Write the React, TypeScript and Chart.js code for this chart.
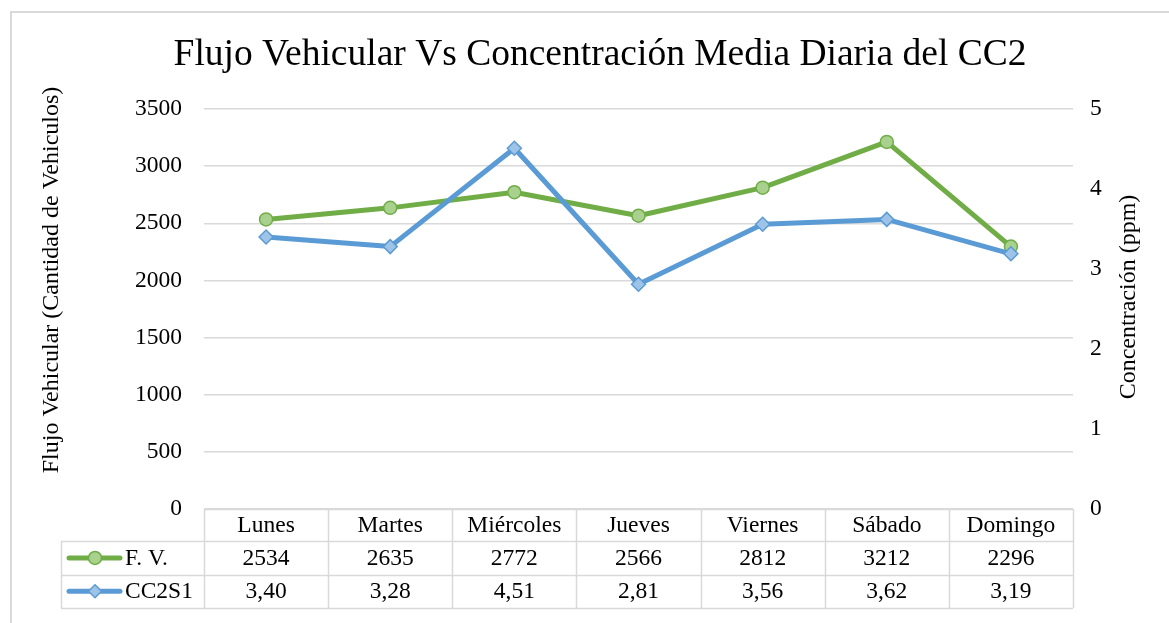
import React, { useEffect, useRef } from "react";
import { Chart, registerables } from "chart.js";

Chart.register(...registerables);

const categories = ["Lunes", "Martes", "Miércoles", "Jueves", "Viernes", "Sábado", "Domingo"];
const flujoVehicular = [2534, 2635, 2772, 2566, 2812, 3212, 2296];
const concentracion = [3.4, 3.28, 4.51, 2.81, 3.56, 3.62, 3.19];
const seriesNames = ["F. V.", "CC2S1"];
const titleText = "Flujo Vehicular Vs Concentración Media Diaria del CC2";
const leftAxisTitle = "Flujo Vehicular (Cantidad de Vehiculos)";
const rightAxisTitle = "Concentración (ppm)";

const GREEN = "#70AD47";
const GREEN_FILL = "#A9D18E";
const BLUE = "#5B9BD5";
const BLUE_FILL = "#9DC3E6";
const GRID = "#D9D9D9";
const FONT = "'Liberation Serif', 'Times New Roman', serif";
const TEXT = "#000000";
const TICK_SIZE = 23.5;

const fmtConc = (v: number) => v.toFixed(2).replace(".", ",");

const tablePlugin = {
  id: "tablePlugin",
  afterDraw(chart: any) {
    const ctx = chart.ctx as CanvasRenderingContext2D;
    const area = chart.chartArea;
    const xs = chart.scales.x;
    const n = categories.length;
    const colW = (area.right - area.left) / n;
    const top = area.bottom;
    const rowH = 32.3;
    const r1 = top + rowH;
    const r2 = r1 + rowH + 1;
    const r3 = r2 + rowH + 1;
    const legendLeft = 61;

    ctx.save();
    // frame
    ctx.strokeStyle = GRID;
    ctx.lineWidth = 2;
    ctx.beginPath();
    ctx.moveTo(11, chart.height + 2);
    ctx.lineTo(11, 12);
    ctx.lineTo(chart.width + 2, 12);
    ctx.stroke();

    // table lines
    ctx.lineWidth = 1.5;
    ctx.beginPath();
    ctx.moveTo(area.left, top + 0.5);
    ctx.lineTo(area.right, top + 0.5);
    [r1, r2, r3].forEach((y) => {
      ctx.moveTo(legendLeft, Math.round(y) + 0.5);
      ctx.lineTo(area.right, Math.round(y) + 0.5);
    });
    ctx.moveTo(legendLeft + 0.5, r1);
    ctx.lineTo(legendLeft + 0.5, r3);
    for (let i = 0; i <= n; i++) {
      const x = Math.round(area.left + i * colW) + 0.5;
      ctx.moveTo(x, top);
      ctx.lineTo(x, r3);
    }
    ctx.stroke();

    // table text
    ctx.fillStyle = TEXT;
    ctx.font = `${TICK_SIZE}px ${FONT}`;
    ctx.textAlign = "center";
    ctx.textBaseline = "middle";
    categories.forEach((c, i) => {
      const x = xs.getPixelForValue(i);
      ctx.fillText(c, x, (top + r1) / 2 + 1);
      ctx.fillText(String(flujoVehicular[i]), x, (r1 + r2) / 2 + 1);
      ctx.fillText(fmtConc(concentracion[i]), x, (r2 + r3) / 2 + 1);
    });

    // legend keys
    const keys = [
      { y: (r1 + r2) / 2, color: GREEN, fill: GREEN_FILL, style: "circle", name: seriesNames[0] },
      { y: (r2 + r3) / 2, color: BLUE, fill: BLUE_FILL, style: "diamond", name: seriesNames[1] },
    ];
    keys.forEach((k) => {
      ctx.strokeStyle = k.color;
      ctx.lineWidth = 5;
      ctx.lineCap = "round";
      ctx.beginPath();
      ctx.moveTo(69, k.y);
      ctx.lineTo(120, k.y);
      ctx.stroke();
      ctx.lineWidth = 1.5;
      ctx.fillStyle = k.fill;
      ctx.beginPath();
      if (k.style === "circle") {
        ctx.arc(95, k.y, 6.5, 0, Math.PI * 2);
      } else {
        ctx.moveTo(95, k.y - 6.5);
        ctx.lineTo(101.5, k.y);
        ctx.lineTo(95, k.y + 6.5);
        ctx.lineTo(88.5, k.y);
        ctx.closePath();
      }
      ctx.fill();
      ctx.stroke();
      ctx.fillStyle = TEXT;
      ctx.textAlign = "left";
      ctx.fillText(k.name, 125, k.y + 1);
    });

    // title
    ctx.font = `37.5px ${FONT}`;
    ctx.textAlign = "center";
    ctx.textBaseline = "alphabetic";
    ctx.fillText(titleText, 600, 65);

    // axis titles
    ctx.font = `24px ${FONT}`;
    ctx.textBaseline = "middle";
    ctx.save();
    ctx.translate(52, 280);
    ctx.rotate(-Math.PI / 2);
    ctx.fillText(leftAxisTitle, 0, 0);
    ctx.restore();
    ctx.save();
    ctx.translate(1129, 297);
    ctx.rotate(-Math.PI / 2);
    ctx.fillText(rightAxisTitle, 0, 0);
    ctx.restore();

    ctx.restore();
  },
};

export default function App() {
  const ref = useRef<HTMLCanvasElement>(null);

  useEffect(() => {
    document.body.style.margin = "0";
    const canvas = ref.current;
    if (!canvas) return;
    const chart = new Chart(canvas, {
      type: "line",
      data: {
        labels: categories,
        datasets: [
          {
            label: seriesNames[0],
            data: flujoVehicular,
            yAxisID: "y",
            borderColor: GREEN,
            backgroundColor: GREEN_FILL,
            borderWidth: 5,
            pointStyle: "circle",
            pointRadius: 6.5,
            pointBorderWidth: 1.5,
            pointBorderColor: GREEN,
            pointBackgroundColor: GREEN_FILL,
            tension: 0,
            borderCapStyle: "round",
            borderJoinStyle: "round",
            order: 2,
          },
          {
            label: seriesNames[1],
            data: concentracion,
            yAxisID: "y1",
            borderColor: BLUE,
            backgroundColor: BLUE_FILL,
            borderWidth: 5,
            pointStyle: "rectRot",
            pointRadius: 7,
            pointBorderWidth: 1.5,
            pointBorderColor: BLUE,
            pointBackgroundColor: BLUE_FILL,
            tension: 0,
            borderCapStyle: "round",
            borderJoinStyle: "round",
            order: 1,
          },
        ],
      },
      options: {
        responsive: false,
        animation: false,
        layout: { padding: { top: 109, bottom: 114, left: 0, right: 0 } },
        plugins: {
          legend: { display: false },
          title: { display: false },
          tooltip: { enabled: false },
        },
        scales: {
          x: {
            type: "category",
            display: false,
            offset: true,
          },
          y: {
            position: "left",
            min: 0,
            max: 3500,
            afterFit: (s: any) => {
              s.width = 204;
            },
            ticks: {
              stepSize: 500,
              padding: 22,
              color: TEXT,
              font: { family: FONT, size: TICK_SIZE },
              callback: (v: any) => String(v),
            },
            grid: { color: GRID, lineWidth: 1.5, drawTicks: false },
            border: { display: false },
          },
          y1: {
            position: "right",
            min: 0,
            max: 5,
            afterFit: (s: any) => {
              s.width = 96;
            },
            ticks: {
              stepSize: 1,
              padding: 17,
              color: TEXT,
              font: { family: FONT, size: TICK_SIZE },
              callback: (v: any) => String(v),
            },
            grid: { drawOnChartArea: false, drawTicks: false },
            border: { display: false },
          },
        },
      },
      plugins: [tablePlugin],
    });
    return () => chart.destroy();
  }, []);

  return (
    <div style={{ width: 1169, height: 623, background: "#fff" }}>
      <canvas ref={ref} width={1169} height={623} />
    </div>
  );
}
